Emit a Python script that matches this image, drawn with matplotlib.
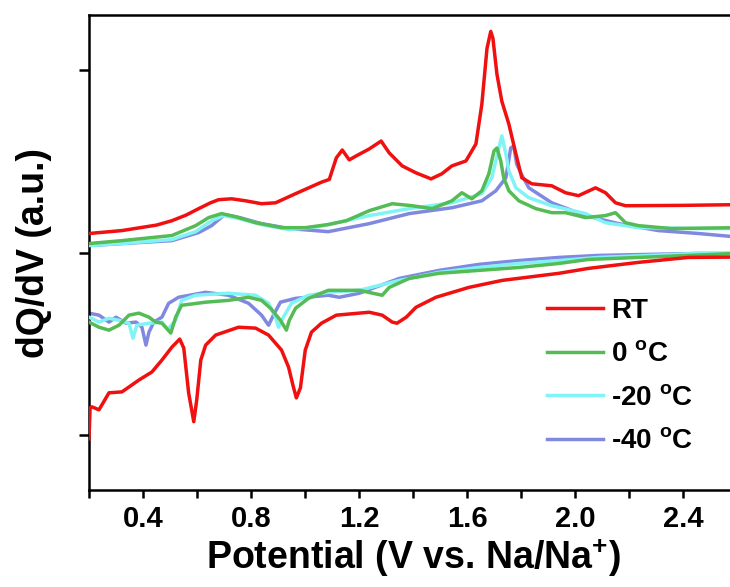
import matplotlib
matplotlib.use("Agg")
import matplotlib.pyplot as plt

plt.rcParams["font.family"] = ["Liberation Sans", "DejaVu Sans"]
plt.rcParams["font.weight"] = "bold"
plt.rcParams["mathtext.fontset"] = "custom"
plt.rcParams["mathtext.rm"] = "Liberation Sans:bold"
plt.rcParams["mathtext.bf"] = "Liberation Sans:bold"
plt.rcParams["mathtext.default"] = "regular"

# ---- dQ/dV data (potential in V, dQ/dV in a.u.) ----
# RT
rt_charge_v = [0.200, 0.322, 0.450, 0.507, 0.560, 0.606, 0.650, 0.680, 0.728, 0.780,
               0.839, 0.891, 0.965, 1.061, 1.090, 1.116, 1.138, 1.164, 1.190, 1.238,
               1.282, 1.312, 1.360, 1.411, 1.467, 1.507, 1.544, 1.596, 1.633, 1.655,
               1.674, 1.688, 1.696, 1.711, 1.729, 1.755, 1.781, 1.803, 1.840, 1.914,
               1.965, 2.013, 2.076, 2.113, 2.150, 2.187, 2.400, 2.600]
rt_charge_dqdv = [0.104, 0.120, 0.150, 0.174, 0.205, 0.240, 0.272, 0.289, 0.294, 0.283,
                  0.267, 0.272, 0.322, 0.385, 0.400, 0.518, 0.561, 0.507, 0.529, 0.567,
                  0.610, 0.545, 0.474, 0.436, 0.403, 0.431, 0.474, 0.501, 0.594, 0.812,
                  1.117, 1.210, 1.172, 0.975, 0.828, 0.703, 0.540, 0.409, 0.376, 0.365,
                  0.327, 0.311, 0.354, 0.327, 0.272, 0.256, 0.258, 0.262]
rt_discharge_v = [0.200, 0.204, 0.211, 0.237, 0.274, 0.322, 0.385, 0.433, 0.470, 0.507,
                  0.536, 0.551, 0.569, 0.588, 0.599, 0.614, 0.632, 0.669, 0.754, 0.817,
                  0.865, 0.913, 0.939, 0.957, 0.968, 0.983, 1.001, 1.024, 1.061, 1.116,
                  1.238, 1.286, 1.323, 1.341, 1.375, 1.411, 1.485, 1.607, 1.729, 1.940,
                  2.050, 2.235, 2.420, 2.600]
rt_discharge_dqdv = [-1.020, -0.850, -0.845, -0.861, -0.768, -0.763, -0.698, -0.654, -0.589, -0.518,
                     -0.474, -0.523, -0.768, -0.926, -0.807, -0.589, -0.507, -0.452, -0.409, -0.414,
                     -0.452, -0.534, -0.627, -0.736, -0.796, -0.741, -0.534, -0.436, -0.387, -0.343,
                     -0.327, -0.343, -0.381, -0.387, -0.354, -0.300, -0.245, -0.191, -0.153, -0.114,
                     -0.087, -0.054, -0.027, -0.025]

# 0 degC
c0_charge_v = [0.200, 0.322, 0.507, 0.595, 0.643, 0.691, 0.743, 0.817, 0.913, 1.001,
               1.086, 1.153, 1.238, 1.323, 1.397, 1.471, 1.544, 1.581, 1.618, 1.655,
               1.681, 1.700, 1.711, 1.725, 1.736, 1.755, 1.792, 1.855, 1.914, 1.965,
               2.039, 2.113, 2.150, 2.187, 2.235, 2.357, 2.600]
c0_charge_dqdv = [0.049, 0.065, 0.093, 0.147, 0.191, 0.213, 0.196, 0.163, 0.136, 0.136,
                  0.153, 0.174, 0.229, 0.267, 0.256, 0.240, 0.283, 0.327, 0.294, 0.338,
                  0.431, 0.556, 0.572, 0.501, 0.409, 0.338, 0.283, 0.240, 0.218, 0.218,
                  0.191, 0.202, 0.218, 0.163, 0.147, 0.131, 0.136]
c0_discharge_v = [0.200, 0.237, 0.274, 0.311, 0.348, 0.385, 0.422, 0.447, 0.470, 0.503,
                  0.521, 0.543, 0.632, 0.717, 0.791, 0.839, 0.872, 0.909, 0.931, 0.942,
                  0.965, 1.013, 1.086, 1.201, 1.286, 1.312, 1.386, 1.496, 1.644, 1.792,
                  1.940, 2.050, 2.235, 2.420, 2.600]
c0_discharge_dqdv = [-0.381, -0.409, -0.425, -0.398, -0.343, -0.332, -0.354, -0.381, -0.387, -0.441,
                     -0.354, -0.289, -0.272, -0.262, -0.245, -0.262, -0.305, -0.371, -0.425, -0.371,
                     -0.305, -0.251, -0.207, -0.207, -0.234, -0.191, -0.142, -0.114, -0.098, -0.082,
                     -0.060, -0.038, -0.027, -0.016, -0.005]

# -20 degC
m20_charge_v = [0.200, 0.322, 0.507, 0.595, 0.654, 0.699, 0.758, 0.839, 0.942, 1.053,
                1.238, 1.386, 1.544, 1.655, 1.692, 1.718, 1.729, 1.744, 1.755, 1.781,
                1.829, 1.914, 2.039, 2.113, 2.235, 2.457, 2.600]
m20_charge_dqdv = [0.038, 0.049, 0.071, 0.114, 0.174, 0.202, 0.185, 0.153, 0.125, 0.142,
                   0.202, 0.240, 0.272, 0.322, 0.409, 0.572, 0.638, 0.540, 0.447, 0.354,
                   0.300, 0.256, 0.213, 0.163, 0.136, 0.131, 0.131]
m20_discharge_v = [0.200, 0.237, 0.274, 0.311, 0.348, 0.363, 0.377, 0.422, 0.470, 0.492,
                   0.521, 0.543, 0.595, 0.717, 0.817, 0.865, 0.891, 0.902, 0.920, 0.950,
                   1.013, 1.086, 1.201, 1.349, 1.496, 1.644, 1.792, 1.940, 2.087, 2.457,
                   2.600]
m20_discharge_dqdv = [-0.354, -0.381, -0.360, -0.371, -0.387, -0.469, -0.398, -0.387, -0.381, -0.420,
                      -0.371, -0.262, -0.234, -0.223, -0.234, -0.278, -0.354, -0.409, -0.354, -0.278,
                      -0.234, -0.218, -0.207, -0.153, -0.109, -0.082, -0.060, -0.044, -0.027, -0.005,
                      -0.005]

# -40 degC
m40_charge_v = [0.200, 0.507, 0.606, 0.654, 0.702, 0.758, 0.839, 0.942, 1.086, 1.238,
                1.386, 1.544, 1.655, 1.707, 1.744, 1.762, 1.773, 1.784, 1.799, 1.829,
                1.914, 2.039, 2.161, 2.309, 2.457, 2.600]
m40_charge_dqdv = [0.038, 0.065, 0.109, 0.147, 0.207, 0.191, 0.158, 0.131, 0.114, 0.158,
                   0.213, 0.245, 0.283, 0.338, 0.409, 0.572, 0.583, 0.485, 0.436, 0.354,
                   0.272, 0.202, 0.158, 0.120, 0.104, 0.085]
m40_discharge_v = [0.200, 0.237, 0.274, 0.300, 0.337, 0.374, 0.396, 0.411, 0.422, 0.440,
                   0.470, 0.495, 0.532, 0.632, 0.717, 0.791, 0.839, 0.865, 0.883, 0.909,
                   0.965, 1.086, 1.127, 1.201, 1.349, 1.496, 1.644, 1.792, 1.940, 2.087,
                   2.457, 2.600]
m40_discharge_dqdv = [-0.332, -0.343, -0.381, -0.354, -0.387, -0.381, -0.409, -0.507, -0.436, -0.381,
                      -0.354, -0.278, -0.245, -0.218, -0.234, -0.278, -0.343, -0.398, -0.343, -0.272,
                      -0.251, -0.234, -0.245, -0.223, -0.142, -0.098, -0.065, -0.044, -0.027, -0.016,
                      -0.005, -0.005]

labels = ["RT", "0 $^{o}$C", "-20 $^{o}$C", "-40 $^{o}$C"]
colors = ["#f01010", "#55bb55", "#80f4f4", "#8088e0"]

x_ticks = [0.4, 0.8, 1.2, 1.6, 2.0, 2.4]
x_tick_labels = ["0.4", "0.8", "1.2", "1.6", "2.0", "2.4"]

series = [
    (rt_charge_v, rt_charge_dqdv, rt_discharge_v, rt_discharge_dqdv),
    (c0_charge_v, c0_charge_dqdv, c0_discharge_v, c0_discharge_dqdv),
    (m20_charge_v, m20_charge_dqdv, m20_discharge_v, m20_discharge_dqdv),
    (m40_charge_v, m40_charge_dqdv, m40_discharge_v, m40_discharge_dqdv),
]

fig = plt.figure(figsize=(7.3, 5.87), dpi=100)
ax = fig.add_axes([89 / 730, 97 / 587, 648 / 730, 475 / 587])

lw = 2.5
handles = []
zorders = [5, 4, 3, 2]
for (cv, cq, dv, dq), lab, col, z in zip(series, labels, colors, zorders):
    h, = ax.plot(cv, cq, color=col, lw=lw, label=lab, zorder=z)
    ax.plot(dv, dq, color=col, lw=lw, zorder=z)
    handles.append(h)

ax.set_xlim(0.2, 2.6)
ax.set_ylim(-1.3, 1.3)
ax.set_xticks(x_ticks)
ax.set_xticklabels(x_tick_labels)
ax.set_xticks([0.2, 0.6, 1.0, 1.4, 1.8, 2.2, 2.6], minor=True)
ax.set_yticks([-1, 0, 1])
ax.set_yticklabels([])

for s in ax.spines.values():
    s.set_linewidth(1.8)
ax.tick_params(axis="both", which="both", direction="out", width=1.8)
ax.tick_params(axis="x", which="major", length=6, labelsize=21, pad=5)
ax.tick_params(axis="x", which="minor", length=6)
ax.tick_params(axis="y", which="major", length=7)

ax.set_xlabel("Potential (V vs. Na/Na$^{+}$)", fontsize=27, fontweight="bold", labelpad=2)
ax.set_ylabel("dQ/dV (a.u.)", fontsize=27, fontweight="bold", labelpad=16)

ax.legend(handles=handles, labels=labels, loc="upper left",
          bbox_to_anchor=(547 / 730, 1 - 298 / 587), bbox_transform=fig.transFigure,
          frameon=False, fontsize=20, handlelength=2.0, handletextpad=0.3,
          labelspacing=0.63, borderpad=0, borderaxespad=0)

fig.savefig("out.png", dpi=100)
